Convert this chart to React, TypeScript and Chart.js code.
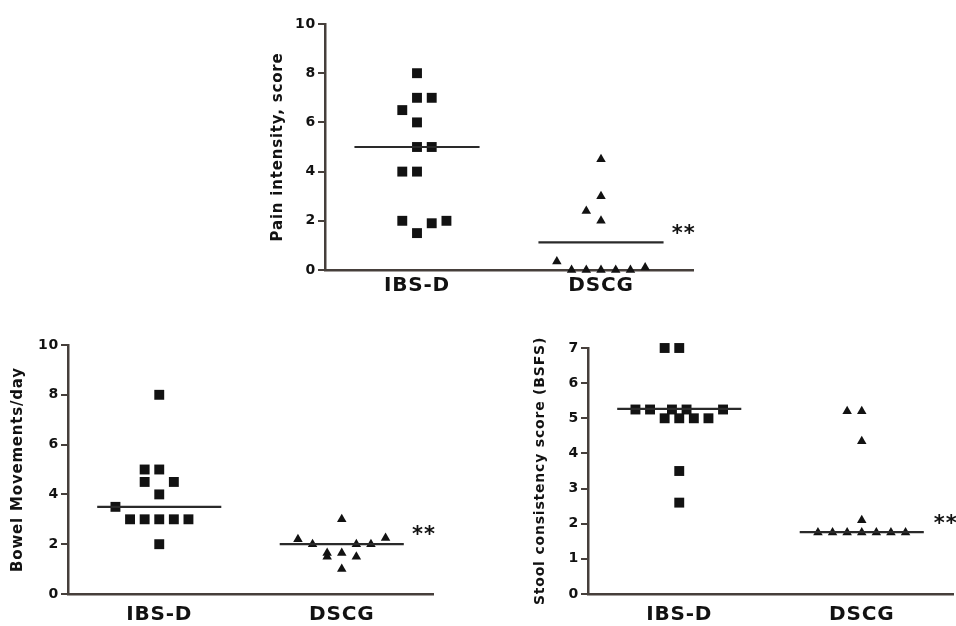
import React, { useEffect, useRef } from 'react';
import { Chart, registerables } from 'chart.js';

Chart.register(...registerables);

// ---------- data ----------
const CATEGORIES = ['IBS-D', 'DSCG'];
const SIGNIFICANCE = '**';

// Pain intensity, score
const PAIN_IBSD = [8, 7, 7, 6.5, 6, 5, 5, 4, 4, 2, 1.5, 1.9, 2];
const PAIN_IBSD_JITTER = [0, 0, 1, -1, 0, 0, 1, -1, 0, -1, 0, 1, 2];
const PAIN_DSCG = [4.5, 3, 2.4, 2, 0.35, 0, 0, 0, 0, 0, 0.1];
const PAIN_DSCG_JITTER = [0, 0, -1, 0, -3, -2, -1, 0, 1, 2, 3];
const PAIN_MEDIANS = [5, 1.12];
const PAIN_TICKS = [0, 2, 4, 6, 8, 10];

// Bowel Movements/day
const BOWEL_IBSD = [8, 5, 5, 4.5, 4.5, 4, 3.5, 3, 3, 3, 3, 3, 2];
const BOWEL_IBSD_JITTER = [0, -1, 0, -1, 1, 0, -3, -2, -1, 0, 1, 2, 0];
const BOWEL_DSCG = [3, 2.2, 2.25, 2, 2, 2, 1.65, 1.5, 1.65, 1.5, 1.0];
const BOWEL_DSCG_JITTER = [0, -3, 3, -2, 1, 2, -1, -1, 0, 1, 0];
const BOWEL_MEDIANS = [3.5, 2.0];
const BOWEL_TICKS = [0, 2, 4, 6, 8, 10];

// Stool consistency score (BSFS)
const STOOL_IBSD = [7, 7, 5.25, 5.25, 5.25, 5.25, 5.25, 5, 5, 5, 5, 3.5, 2.6];
const STOOL_IBSD_JITTER = [-1, 0, -3, -2, -0.5, 0.5, 3, -1, 0, 1, 2, 0, 0];
const STOOL_DSCG = [5.2, 5.2, 4.35, 2.1, 1.75, 1.75, 1.75, 1.75, 1.75, 1.75, 1.75];
const STOOL_DSCG_JITTER = [-1, 0, 0, 0, -3, -2, -1, 0, 1, 2, 3];
const STOOL_MEDIANS = [5.27, 1.76];
const STOOL_TICKS = [0, 1, 2, 3, 4, 5, 6, 7];

// ---------- styles ----------
const JITTER_STEP = 0.08;
const MEDIAN_HALF = 0.34;
const INK = '#121212';
const AXIS = '#463f3b';
const FONT = '"DejaVu Sans", "Liberation Sans", sans-serif';

type PanelCfg = {
  title: string;
  titleSize: number;
  ibsd: number[];
  ibsdJitter: number[];
  dscg: number[];
  dscgJitter: number[];
  medians: number[];
  ticks: number[];
  sigY: number;
  sigX: number;
  left: number;
  top: number;
  width: number;
  height: number;
  yWidth: number;
  xHeight: number;
  padTop: number;
  padRight: number;
  titlePad: number;
  labelPad: number;
  squareR: number;
  triR: number;
};

const textPlugin = {
  id: 'sigText',
  beforeDraw(chart: any) {
    (chart.ctx as any).letterSpacing = '0.8px';
  },
  afterDatasetsDraw(chart: any, _args: any, opts: any) {
    const { ctx, scales } = chart;
    ctx.save();
    (ctx as any).letterSpacing = '1px';
    ctx.font = 'bold 21px "DejaVu Sans", sans-serif';
    ctx.fillStyle = INK;
    ctx.textAlign = 'center';
    ctx.textBaseline = 'alphabetic';
    ctx.fillText(
      SIGNIFICANCE,
      scales.x.getPixelForValue(opts.x),
      scales.y.getPixelForValue(opts.y) + 12
    );
    ctx.restore();
  },
};

function toPoints(group: number, values: number[], jitter: number[]) {
  return values.map((v, i) => ({ x: group + jitter[i] * JITTER_STEP, y: v }));
}

function medianLine(group: number, m: number) {
  return [
    { x: group - MEDIAN_HALF, y: m },
    { x: group + MEDIAN_HALF, y: m },
  ];
}

function Panel({ cfg }: { cfg: PanelCfg }) {
  const ref = useRef<HTMLCanvasElement>(null);
  useEffect(() => {
    const chart = new Chart(ref.current as HTMLCanvasElement, {
      type: 'scatter',
      data: {
        datasets: [
          {
            type: 'line',
            data: medianLine(0, cfg.medians[0]),
            borderColor: '#2a2a2a',
            borderWidth: 2.2,
            pointRadius: 0,
            showLine: true,
            clip: false,
          } as any,
          {
            type: 'line',
            data: medianLine(1, cfg.medians[1]),
            borderColor: '#2a2a2a',
            borderWidth: 2.2,
            pointRadius: 0,
            showLine: true,
            clip: false,
          } as any,
          {
            data: toPoints(0, cfg.ibsd, cfg.ibsdJitter),
            pointStyle: 'rect',
            pointRadius: cfg.squareR,
            backgroundColor: INK,
            borderColor: INK,
            borderWidth: 0,
            clip: false,
          } as any,
          {
            data: toPoints(1, cfg.dscg, cfg.dscgJitter),
            pointStyle: 'triangle',
            pointRadius: cfg.triR,
            backgroundColor: INK,
            borderColor: INK,
            borderWidth: 0,
            clip: false,
          } as any,
        ],
      },
      options: {
        animation: false,
        responsive: false,
        devicePixelRatio: 1,
        events: [],
        layout: { padding: { top: cfg.padTop, right: cfg.padRight, left: 0, bottom: 0 } },
        plugins: {
          legend: { display: false },
          tooltip: { enabled: false },
          sigText: { x: cfg.sigX, y: cfg.sigY },
        } as any,
        scales: {
          x: {
            type: 'linear',
            min: -0.5,
            max: 1.5,
            afterBuildTicks: (s: any) => {
              s.ticks = CATEGORIES.map((_, i) => ({ value: i }));
            },
            afterFit: (s: any) => {
              s.height = cfg.xHeight;
            },
            ticks: {
              callback: (v: any) => CATEGORIES[Math.round(Number(v))],
              font: { family: FONT, size: 20, weight: 'bold' },
              color: INK,
              padding: cfg.labelPad,
              maxRotation: 0,
            },
            grid: { display: false, drawTicks: false },
            border: { display: true, color: AXIS, width: 2.5 },
          },
          y: {
            type: 'linear',
            min: cfg.ticks[0],
            max: cfg.ticks[cfg.ticks.length - 1],
            afterBuildTicks: (s: any) => {
              s.ticks = cfg.ticks.map((v) => ({ value: v }));
            },
            afterFit: (s: any) => {
              s.width = cfg.yWidth;
            },
            ticks: {
              font: { family: FONT, size: 14, weight: 'bold' },
              color: INK,
              padding: 2,
            },
            grid: {
              display: true,
              drawOnChartArea: false,
              drawTicks: true,
              tickLength: 7,
              color: AXIS,
              lineWidth: 2,
            },
            border: { display: true, color: AXIS, width: 2.5 },
            title: {
              display: true,
              text: cfg.title,
              font: { family: FONT, size: cfg.titleSize, weight: 'bold' },
              color: INK,
              padding: { top: cfg.titlePad, bottom: 0 },
            },
          },
        },
      } as any,
      plugins: [textPlugin as any],
    });
    return () => chart.destroy();
  }, []);
  return (
    <canvas
      ref={ref}
      width={cfg.width}
      height={cfg.height}
      style={{
        position: 'absolute',
        left: cfg.left,
        top: cfg.top,
        width: cfg.width,
        height: cfg.height,
      }}
    />
  );
}

const PANELS: PanelCfg[] = [
  {
    title: 'Pain intensity, score',
    titleSize: 15,
    ibsd: PAIN_IBSD,
    ibsdJitter: PAIN_IBSD_JITTER,
    dscg: PAIN_DSCG,
    dscgJitter: PAIN_DSCG_JITTER,
    medians: PAIN_MEDIANS,
    ticks: PAIN_TICKS,
    sigX: 1.45,
    sigY: 1.7,
    left: 240,
    top: 10,
    width: 460,
    height: 300,
    yWidth: 85,
    xHeight: 40,
    padTop: 14,
    padRight: 3,
    titlePad: 29,
    labelPad: 4,
    squareR: 7,
    triR: 5.5,
  },
  {
    title: 'Bowel Movements/day',
    titleSize: 15,
    ibsd: BOWEL_IBSD,
    ibsdJitter: BOWEL_IBSD_JITTER,
    dscg: BOWEL_DSCG,
    dscgJitter: BOWEL_DSCG_JITTER,
    medians: BOWEL_MEDIANS,
    ticks: BOWEL_TICKS,
    sigX: 1.45,
    sigY: 2.6,
    left: 0,
    top: 330,
    width: 440,
    height: 295,
    yWidth: 68,
    xHeight: 31,
    padTop: 15,
    padRight: 3,
    titlePad: 9,
    labelPad: 9,
    squareR: 7,
    triR: 5.5,
  },
  {
    title: 'Stool consistency score (BSFS)',
    titleSize: 14,
    ibsd: STOOL_IBSD,
    ibsdJitter: STOOL_IBSD_JITTER,
    dscg: STOOL_DSCG,
    dscgJitter: STOOL_DSCG_JITTER,
    medians: STOOL_MEDIANS,
    ticks: STOOL_TICKS,
    sigX: 1.46,
    sigY: 2.16,
    left: 520,
    top: 330,
    width: 440,
    height: 295,
    yWidth: 68,
    xHeight: 31,
    padTop: 18,
    padRight: 0,
    titlePad: 11.5,
    labelPad: 9,
    squareR: 7,
    triR: 5.5,
  },
];

export default function App() {
  return (
    <div
      style={{
        position: 'absolute',
        left: 0,
        top: 0,
        width: 956,
        height: 626,
        overflow: 'hidden',
        background: '#ffffff',
      }}
    >
      {PANELS.map((p, i) => (
        <Panel key={i} cfg={p} />
      ))}
    </div>
  );
}
